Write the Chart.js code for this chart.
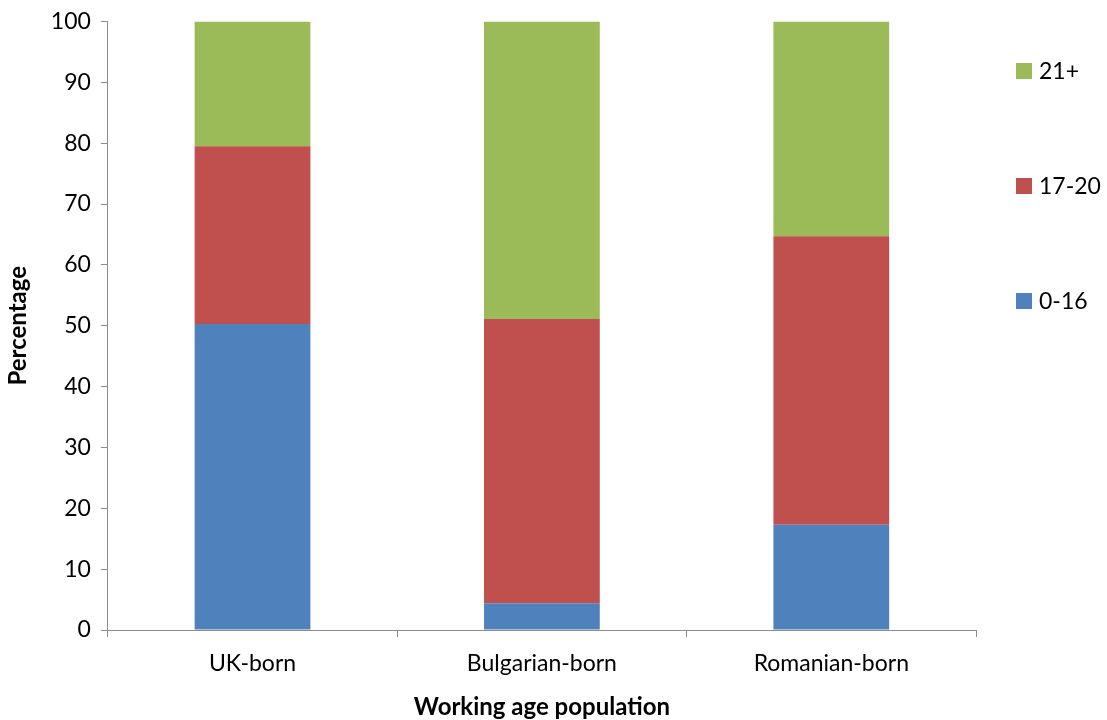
<!DOCTYPE html>
<html>
<head>
<meta charset="utf-8">
<script src="https://cdn.jsdelivr.net/npm/chart.js@4/dist/chart.umd.min.js"></script>
<style>
    html, body { margin: 0; padding: 0; background: #fff; }
    #wrap { width: 1107px; height: 720px; }
</style>
</head>
<body>
<div id="wrap"><canvas id="age-chart" width="1107" height="720"></canvas></div>
<script>
const $ = document.querySelector.bind(document)
const ctx = $("#age-chart")

const categories = ["UK-born", "Bulgarian-born", "Romanian-born"]
const seriesNames = ["0-16", "17-20", "21+"]
const age0to16 = [50.3, 4.4, 17.3]
const age17to20 = [29.2, 46.7, 47.4]
const age21plus = [20.5, 48.9, 35.3]
const yTicks = [0, 10, 20, 30, 40, 50, 60, 70, 80, 90, 100]

const colors = ["#4F81BD", "#C0504D", "#9BBB59"]
const font = "Lato, 'Open Sans', sans-serif"
const axisGray = "#8c8c8c"

// legend drawn on the right, spread out like the original
const sideLegend = {
    id: "sideLegend",
    afterDraw(chart) {
        const c = chart.ctx
        const sets = chart.data.datasets
        const x = chart.chartArea.right + 40
        const gap = 115
        c.save()
        c.font = `23px ${font}`
        c.textBaseline = "middle"
        sets.slice().reverse().forEach((ds, i) => {
            const y = 71 + i * gap
            c.fillStyle = ds.backgroundColor
            c.fillRect(x, y - 8, 16, 16)
            c.fillStyle = "#000"
            c.fillText(ds.label, x + 23, y + 1)
        })
        c.restore()
    }
}

new Chart(ctx, {
    type: "bar",
    data: {
        labels: categories,
        datasets: [
            { label: seriesNames[0], data: age0to16, backgroundColor: colors[0] },
            { label: seriesNames[1], data: age17to20, backgroundColor: colors[1] },
            { label: seriesNames[2], data: age21plus, backgroundColor: colors[2] },
        ]
    },
    options: {
        responsive: false,
        animation: false,
        datasets: {
            bar: {
                barPercentage: 0.4,
                categoryPercentage: 1,
                borderWidth: 0,
            }
        },
        layout: {
            padding: { top: 9, right: 131, bottom: 0, left: 4 }
        },
        scales: {
            x: {
                stacked: true,
                border: { color: axisGray, width: 1 },
                grid: {
                    offset: true,
                    drawOnChartArea: false,
                    color: axisGray,
                    tickLength: 7,
                },
                ticks: {
                    color: "#000",
                    font: { family: font, size: 23 },
                    padding: 13,
                },
                title: {
                    display: true,
                    text: "Working age population",
                    color: "#000",
                    font: { family: font, size: 24, weight: "bold", lineHeight: 1.1 },
                    padding: { top: 3, bottom: 0 },
                }
            },
            y: {
                stacked: true,
                min: 0,
                max: 100,
                afterBuildTicks: (axis) => {
                    axis.ticks = yTicks.map(v => ({ value: v }))
                },
                border: { color: axisGray, width: 1 },
                grid: {
                    drawOnChartArea: false,
                    color: axisGray,
                    tickLength: 7,
                },
                ticks: {
                    color: "#000",
                    font: { family: font, size: 23, lineHeight: 1 },
                    padding: 10,
                },
                title: {
                    display: true,
                    text: "Percentage",
                    color: "#000",
                    font: { family: font, size: 24, weight: "bold" },
                    padding: { top: 0, bottom: 8 },
                }
            }
        },
        plugins: {
            legend: { display: false },
            tooltip: { enabled: false }
        }
    },
    plugins: [sideLegend]
});
</script>
</body>
</html>
